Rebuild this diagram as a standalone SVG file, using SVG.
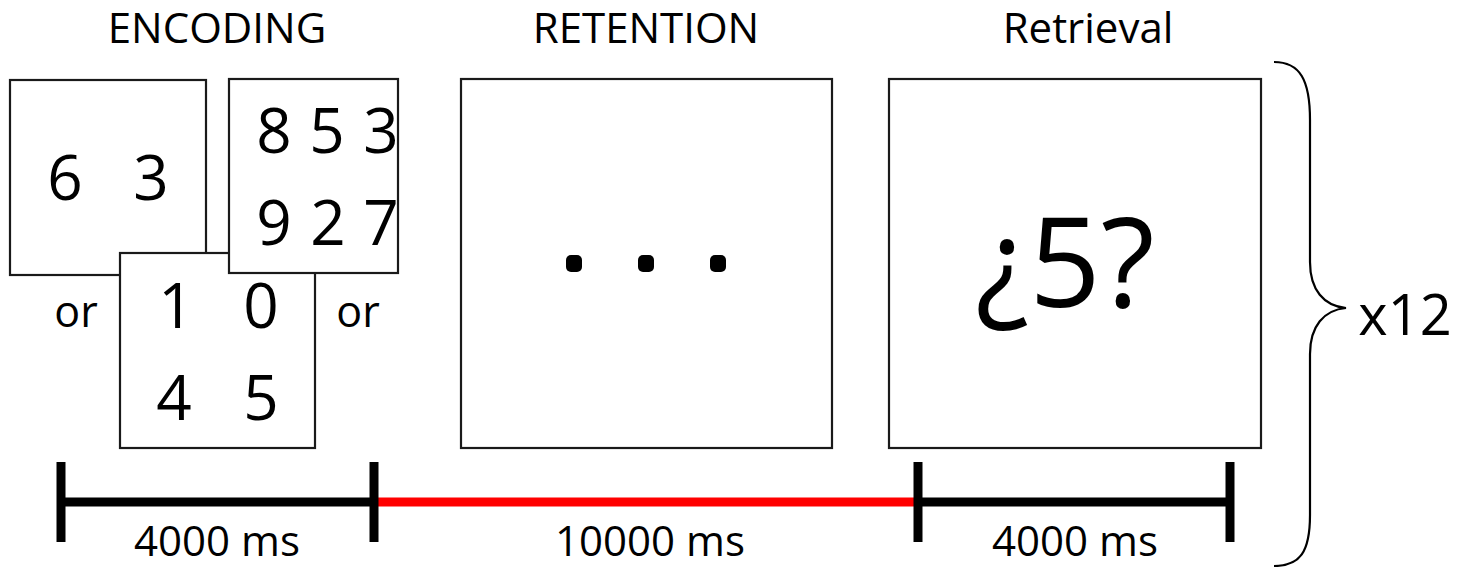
<svg xmlns="http://www.w3.org/2000/svg" width="1468" height="567" viewBox="0 0 1468 567">
<style>
.box{fill:#fff;stroke:#1a1a1a;stroke-width:2.2}
text{font-family:"Open Sans","Liberation Sans",sans-serif;fill:#000;text-anchor:middle}
.h{font-size:42px}
.d{font-size:62px}
.t{font-size:43px}
.ms{font-size:42px}
.tick{stroke:#000;stroke-width:9;fill:none}
</style>
<rect width="1468" height="567" fill="#fff"/>
<g id="headings">
<text class="h" x="217" y="43">ENCODING</text>
<text class="h" x="646" y="43">RETENTION</text>
<text class="h" x="1088" y="43">Retrieval</text>
</g>
<g id="enc1">
<rect class="box" x="10" y="80" width="196" height="195"/>
<text class="d" x="65" y="200">6</text>
<text class="d" x="151" y="200">3</text>
</g>
<g id="enc3">
<rect class="box" x="120" y="253" width="195" height="195"/>
<text class="d" x="176" y="328">1</text>
<text class="d" x="261" y="328">0</text>
<text class="d" x="174" y="420">4</text>
<text class="d" x="261" y="420">5</text>
</g>
<g id="enc2">
<rect class="box" x="229" y="79" width="169" height="194"/>
<text class="d" x="274" y="153">8</text>
<text class="d" x="327" y="153">5</text>
<text class="d" x="381" y="153">3</text>
<text class="d" x="274" y="245">9</text>
<text class="d" x="328" y="245">2</text>
<text class="d" x="381" y="245">7</text>
</g>
<g id="or-labels">
<text class="t" x="76" y="327">or</text>
<text class="t" x="358" y="327">or</text>
</g>
<g id="retention">
<rect class="box" x="461" y="79" width="371" height="369"/>
<rect x="566" y="255" width="16" height="17" rx="5" fill="#000"/>
<rect x="638" y="255" width="16" height="17" rx="5" fill="#000"/>
<rect x="710" y="255" width="16" height="17" rx="5" fill="#000"/>
</g>
<g id="retrieval">
<rect class="box" x="889" y="79" width="372" height="369"/>
<text x="1065" y="307" style="font-size:125px">¿5?</text>
</g>
<g id="connectors">
<line x1="61" y1="502" x2="374" y2="502" class="tick"/>
<line x1="374" y1="502" x2="918" y2="502" stroke="#ff0000" stroke-width="9"/>
<line x1="918" y1="502" x2="1230" y2="502" class="tick"/>
<line x1="61" y1="462" x2="61" y2="542" class="tick"/>
<line x1="374" y1="462" x2="374" y2="542" class="tick"/>
<line x1="918" y1="462" x2="918" y2="542" class="tick"/>
<line x1="1230" y1="462" x2="1230" y2="542" class="tick"/>
<path d="M1274,62 C1300,62 1310,80 1310,120 L1310,262 C1310,290 1324,306 1346,308 C1324,310 1310,326 1310,354 L1310,515 C1310,552 1300,566 1274,566" fill="none" stroke="#000" stroke-width="2.2"/>
</g>
<g id="durations">
<text class="ms" x="217" y="556">4000 ms</text>
<text class="ms" x="650" y="556">10000 ms</text>
<text class="ms" x="1075" y="556">4000 ms</text>
</g>
<g id="repeat">
<text x="1405" y="335" style="font-size:56px">x12</text>
</g>
</svg>
